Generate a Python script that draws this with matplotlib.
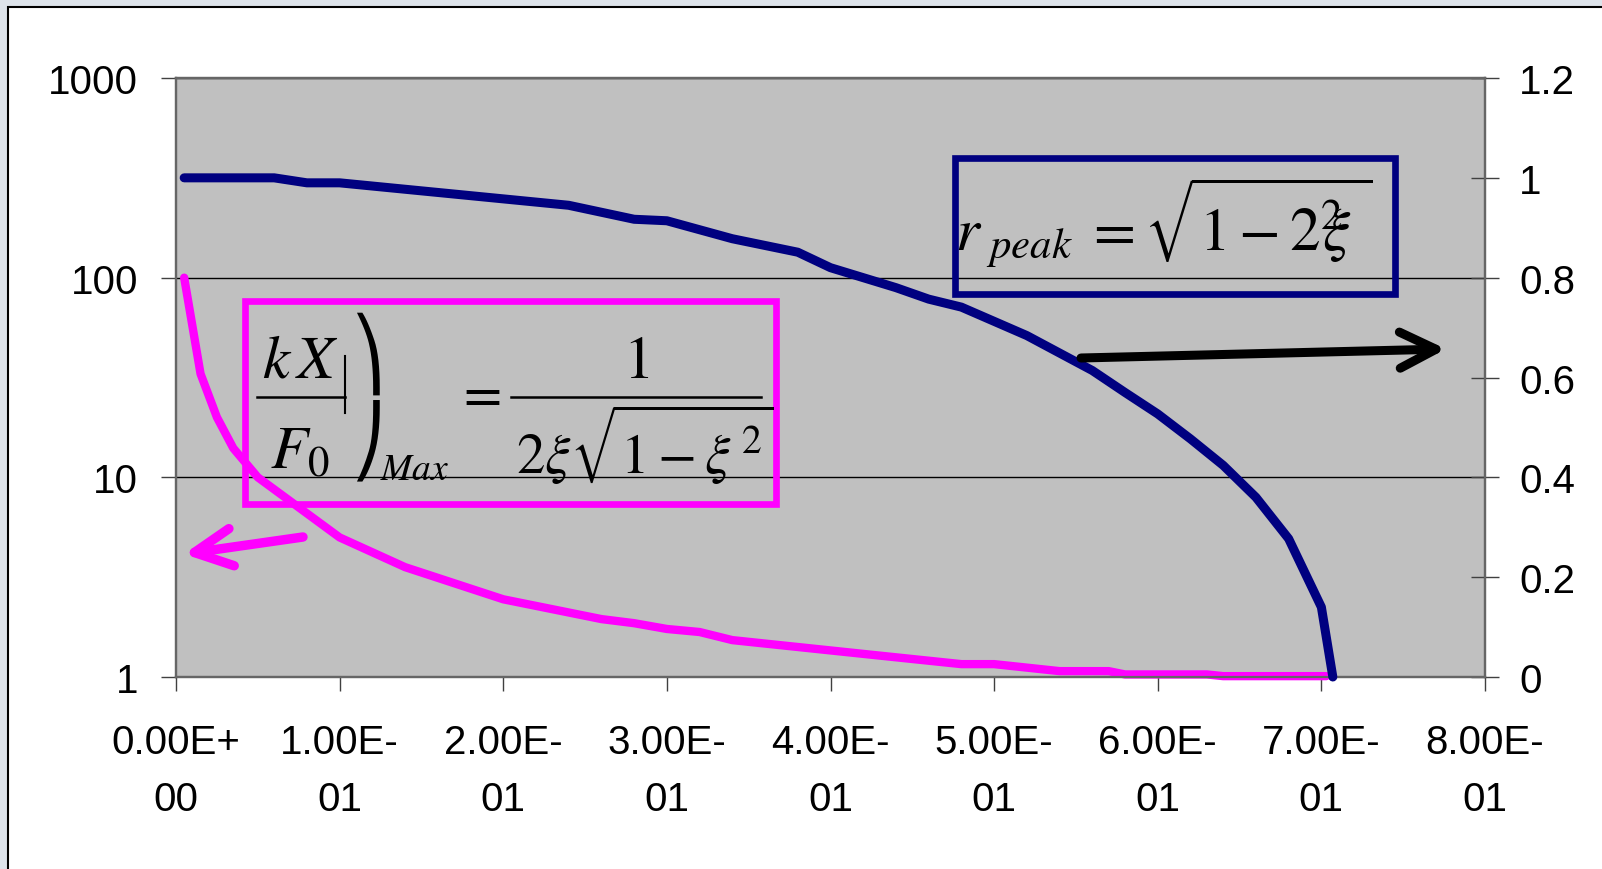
import matplotlib.pyplot as plt
import numpy as np
from matplotlib.patches import Rectangle, FancyArrowPatch
from matplotlib.lines import Line2D
from matplotlib.ticker import NullLocator

plt.rcParams['font.family'] = ['Liberation Sans', 'DejaVu Sans']
plt.rcParams['mathtext.fontset'] = 'stix'

# damping ratio vs peak amplification (left, log) and peak frequency ratio (right)
xi_mag = [0.005, 0.015, 0.025, 0.035, 0.05, 0.10, 0.14, 0.20, 0.26, 0.28, 0.30, 0.32,
          0.34, 0.43, 0.48, 0.50, 0.54, 0.57, 0.58, 0.63, 0.64, 0.703]
kx_mag = [100, 33, 20, 14, 10, 5.0, 3.55, 2.45, 1.95, 1.86, 1.74, 1.68,
          1.53, 1.28, 1.16, 1.16, 1.07, 1.07, 1.03, 1.03, 1.01, 1.01]

xi_nav = [0.005, 0.06, 0.08, 0.10, 0.24, 0.28, 0.30, 0.34, 0.38, 0.40, 0.42, 0.44, 0.46,
          0.48, 0.52, 0.56, 0.58, 0.60, 0.62, 0.64, 0.66, 0.68, 0.70, 0.707]
r_nav = [1.00, 1.00, 0.99, 0.99, 0.945, 0.917, 0.914, 0.878, 0.851, 0.82, 0.80, 0.78, 0.757,
         0.741, 0.684, 0.614, 0.57, 0.527, 0.477, 0.424, 0.36, 0.277, 0.14, 0.0]

xticks = [0.0, 0.1, 0.2, 0.3, 0.4, 0.5, 0.6, 0.7, 0.8]
xlabels = ['0.00E+\n00', '1.00E-\n01', '2.00E-\n01', '3.00E-\n01', '4.00E-\n01',
           '5.00E-\n01', '6.00E-\n01', '7.00E-\n01', '8.00E-\n01']
lticks = [1, 10, 100, 1000]
llabels = ['1', '10', '100', '1000']
rticks = [0, 0.2, 0.4, 0.6, 0.8, 1.0, 1.2]
rlabels = ['0', '0.2', '0.4', '0.6', '0.8', '1', '1.2']

W, H = 1602, 870
def fx(x):
    return x / W
def fy(y):
    return 1 - y / H

fig = plt.figure(figsize=(16.02, 8.70), dpi=100, facecolor='#dde3ea')
bg = Rectangle((fx(8), -0.1), 1.2, fy(8) + 0.1, transform=fig.transFigure,
               facecolor='white', edgecolor='black', lw=1.5, zorder=-1)
fig.add_artist(bg)

ax = fig.add_axes([fx(176), fy(678), fx(1485) - fx(176), fy(79) - fy(678)])
ax.set_facecolor('#c0c0c0')
ax.set_yscale('log')
ax.set_ylim(1, 1000)
ax.set_xlim(0, 0.8)
ax.set_yticks(lticks)
ax.set_yticklabels(llabels)
ax.yaxis.set_minor_locator(NullLocator())
ax.set_xticks(xticks)
ax.set_xticklabels(xlabels, linespacing=1.65)
ax.tick_params(axis='y', direction='out', length=10.8, width=1, color='#404040',
               labelsize=29, pad=16.6)
ax.tick_params(axis='x', direction='out', length=10, width=1, color='#404040',
               labelsize=29, pad=23)
ax.grid(axis='y', which='major', color='black', lw=1)
for s in ax.spines.values():
    s.set_color('#666666')
    s.set_linewidth(1.6)

ax.plot(xi_mag, kx_mag, color='#ff00ff', lw=6, solid_capstyle='round',
        solid_joinstyle='round', clip_on=False, zorder=3)

ax2 = ax.twinx()
ax2.set_ylim(0, 1.2)
ax2.set_yticks(rticks)
ax2.set_yticklabels(rlabels)
ax2.tick_params(axis='y', direction='inout', length=20, width=1, color='#404040',
                labelsize=29, pad=14.5)
for s in ax2.spines.values():
    s.set_color('#666666')
    s.set_linewidth(1.6)
ax2.plot(xi_nav, r_nav, color='#000080', lw=6.5, solid_capstyle='round',
         solid_joinstyle='round', clip_on=False, zorder=3)

# formula boxes
fig.add_artist(Rectangle((fx(955), fy(295)), fx(1395) - fx(955), fy(159) - fy(295),
                         transform=fig.transFigure, fill=False, edgecolor='#000080', lw=4.8))
fig.add_artist(Rectangle((fx(245), fy(505)), fx(776) - fx(245), fy(302) - fy(505),
                         transform=fig.transFigure, fill=False, edgecolor='#ff00ff', lw=4.8))

fig.text(fx(955), fy(251), r'$r_{\ peak}\;=\sqrt{1-2^{2}\!\!\!\xi\;}$',
         fontsize=44, va='baseline', ha='left')

# (kX/F0)max = 1 / (2 xi sqrt(1 - xi^2))
fig.text(fx(300), fy(378), r'$k\,X$', fontsize=44, va='baseline', ha='center')
fig.add_artist(Line2D([fx(257), fx(345)], [fy(398), fy(398)], transform=fig.transFigure,
                      color='black', lw=1.8))
fig.add_artist(Line2D([fx(345), fx(345)], [fy(357), fy(414)], transform=fig.transFigure,
                      color='black', lw=1.5))
fig.text(fx(300), fy(468), r'$F_0$', fontsize=44, va='baseline', ha='center')
paren = ['DejaVu Serif', 'DejaVu Sans']
fig.text(fx(350), fy(312), '\u239e', family=paren, fontsize=50,
         va='top', ha='left')
fig.text(fx(350), fy(482), '\u23a0', family=paren, fontsize=50,
         va='bottom', ha='left')
fig.text(fx(380), fy(480), r'$Max$', fontsize=27, va='baseline', ha='left')
fig.text(fx(478), fy(410), r'$=$', fontsize=40, va='baseline', ha='center')
fig.text(fx(636), fy(378), r'$1$', fontsize=44, va='baseline', ha='center')
fig.add_artist(Line2D([fx(511), fx(761)], [fy(398), fy(398)], transform=fig.transFigure,
                      color='black', lw=1.8))
fig.text(fx(516), fy(475), r'$2\xi\sqrt{1-\xi^{\,2}}$', fontsize=41, va='baseline', ha='left')

# arrows pointing to the axes
fig.add_artist(FancyArrowPatch((fx(303), fy(538)), (fx(184), fy(555)), transform=fig.transFigure,
                               arrowstyle='->,head_length=27,head_width=13.5', mutation_scale=1,
                               shrinkA=0, shrinkB=0, lw=6.8, color='#ff00ff',
                               capstyle='round', joinstyle='round'))
fig.add_artist(FancyArrowPatch((fx(1081), fy(359)), (fx(1446), fy(350)), transform=fig.transFigure,
                               arrowstyle='->,head_length=26,head_width=13', mutation_scale=1,
                               shrinkA=0, shrinkB=0, lw=6.5, color='black',
                               capstyle='round', joinstyle='round'))

fig.savefig('out.png', dpi=100, facecolor=fig.get_facecolor())
